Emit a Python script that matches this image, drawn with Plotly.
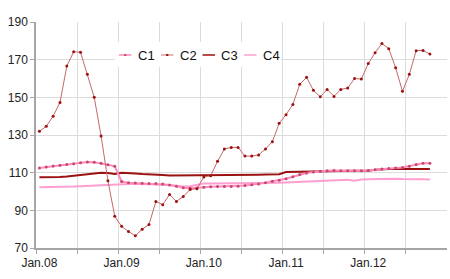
import plotly.graph_objects as go

# monthly data Jan.08 .. Oct.12 (58 months)
months = list(range(58))
c1 = [112.5, 113.0, 113.5, 114.0, 114.4, 114.8, 115.2, 115.6, 115.5, 115.0,
      114.2, 113.4, 105.3, 104.7, 104.5, 104.4, 104.3, 104.2, 104.0, 103.5,
      102.8, 102.0, 101.7, 101.8, 102.3, 102.5, 102.6, 102.6, 102.7, 102.8,
      103.2, 103.6, 104.0, 104.6, 105.4, 106.0, 106.8, 107.8, 109.0, 109.8,
      110.4, 110.8, 111.0, 111.1, 111.0, 111.0, 111.0, 111.0, 111.2, 111.6,
      112.0, 112.2, 112.5, 112.8, 113.4, 114.3, 115.0, 115.0]
c2 = [132.0, 134.6, 140.0, 147.3, 166.6, 174.2, 173.9, 162.2, 150.0, 129.5,
      105.7, 86.8, 81.5, 78.8, 76.5, 80.0, 82.5, 94.7, 93.0, 98.4,
      94.7, 97.4, 101.0, 101.5, 107.7, 108.4, 116.0, 122.6, 123.4, 123.4,
      118.8, 118.8, 119.4, 122.6, 126.4, 136.2, 140.8, 146.2, 156.9, 160.6,
      153.7, 150.3, 154.2, 150.5, 154.2, 154.9, 160.0, 159.7, 167.9, 173.7,
      178.6, 175.8, 165.7, 153.2, 162.2, 174.8, 174.9, 173.0]
c3 = [107.5, 107.5, 107.5, 107.7, 108.0, 108.4, 108.8, 109.2, 109.6, 110.0,
      109.8, 109.3, 110.0, 110.0, 109.6, 109.3, 109.0, 108.8, 108.7, 108.5,
      108.5, 108.5, 108.6, 108.7, 108.7, 108.7, 108.6, 108.6, 108.6, 108.6,
      108.5, 108.7, 108.9, 109.0, 109.1, 109.2, 110.3, 110.4, 110.5, 110.6,
      110.7, 110.8, 110.9, 111.0, 111.0, 111.0, 111.0, 111.0, 111.0, 111.5,
      111.9, 111.9, 111.9, 111.9, 111.9, 111.9, 111.9, 111.9]
c4 = [102.3, 102.3, 102.4, 102.4, 102.5, 102.6, 102.8, 103.0, 103.2, 103.4,
      103.6, 103.8, 103.9, 104.0, 104.0, 104.0, 104.0, 103.9, 103.7, 103.4,
      103.0, 102.7, 102.8, 103.6, 104.2, 104.3, 104.3, 104.3, 104.3, 104.2,
      104.2, 104.2, 104.3, 104.4, 104.5, 104.6, 104.8, 105.0, 105.2, 105.4,
      105.6, 105.8, 106.0, 106.1, 106.2, 106.3, 105.7, 106.4, 106.5, 106.6,
      106.6, 106.7, 106.8, 106.6, 106.4, 106.5, 106.5, 106.4]

year_labels = ["Jan.08", "Jan.09", "Jan.10", "Jan.11", "Jan.12"]
y_ticks = [70, 90, 110, 130, 150, 170, 190]
names = ["C1", "C2", "C3", "C4"]

x = [m + 0.5 for m in months]

W, H = 450, 279
L, R, T, B = 36, 3, 22, 31
pw, ph = W - L - R, H - T - B

def px(xp):
    return (xp - L) / pw

def py(yp):
    return (H - B - yp) / ph

fig = go.Figure()
fig.add_trace(go.Scatter(x=x, y=c4, mode="lines", name="C4",
                         line=dict(color="#ff9fcf", width=2)))
fig.add_trace(go.Scatter(x=x, y=c3, mode="lines", name="C3",
                         line=dict(color="#9b1212", width=2)))
fig.add_trace(go.Scatter(x=x, y=c1, mode="lines+markers", name="C1",
                         line=dict(color="#ff8cbf", width=2),
                         marker=dict(color="#c8486e", size=3)))
fig.add_trace(go.Scatter(x=x, y=c2, mode="lines+markers", name="C2",
                         line=dict(color="#c46a6a", width=1),
                         marker=dict(color="#9e1010", size=3)))

font = "Liberation Sans, Arial, sans-serif"

# custom compact legend
shapes = []
annotations = []
shapes.append(dict(type="rect", xref="paper", yref="paper",
                   x0=px(115), x1=px(281), y0=py(67), y1=py(42),
                   fillcolor="white", line=dict(width=0), layer="above"))
leg_style = {
    "C1": ("#ff8cbf", 1.5, "#c8486e"),
    "C2": ("#d9a0a0", 1.5, "#9e1010"),
    "C3": ("#9b1212", 1.5, None),
    "C4": ("#ff9fcf", 1.5, None),
}
starts = [119, 161, 202.5, 244]
for nm, xs in zip(names, starts):
    col, w, mcol = leg_style[nm]
    shapes.append(dict(type="line", xref="paper", yref="paper",
                       x0=px(xs), x1=px(xs + 12.5), y0=py(55), y1=py(55),
                       line=dict(color=col, width=w), layer="above"))
    if mcol:
        shapes.append(dict(type="rect", xref="paper", yref="paper",
                           x0=px(xs + 5.2), x1=px(xs + 7.3), y0=py(56), y1=py(54),
                           fillcolor=mcol, line=dict(width=0), layer="above"))
    annotations.append(dict(text=nm, xref="paper", yref="paper",
                            x=px(xs + 16.5), y=py(55), xanchor="left", yanchor="middle",
                            showarrow=False, font=dict(size=13, color="#111", family=font)))

fig.update_layout(
    width=W, height=H,
    margin=dict(l=L, r=R, t=T, b=B),
    paper_bgcolor="white", plot_bgcolor="white",
    showlegend=False,
    font=dict(family=font, size=12, color="#222"),
    shapes=shapes, annotations=annotations,
    xaxis=dict(range=[0, 60], tickmode="array",
               tickvals=[0.5 + 12 * i for i in range(len(year_labels))],
               ticktext=year_labels, ticks="outside", ticklen=3,
               tickcolor="rgba(0,0,0,0)", showgrid=False, zeroline=False,
               showline=True, linecolor="#a6a6a6", linewidth=1.5,
               tickfont=dict(size=12, color="#222"),
               minor=dict(tickvals=list(range(0, 60, 6)), showgrid=True,
                          gridcolor="#dcdcdc", gridwidth=1, ticks="outside",
                          ticklen=4, tickcolor="#a6a6a6")),
    yaxis=dict(range=[70, 190], tickvals=y_ticks, ticks="outside", ticklen=4,
               tickcolor="#a6a6a6", showgrid=True, gridcolor="#dcdcdc",
               zeroline=False, showline=True, linecolor="#a6a6a6", linewidth=1.5,
               tickfont=dict(size=12, color="#222")),
)

fig.write_html("out.html")
